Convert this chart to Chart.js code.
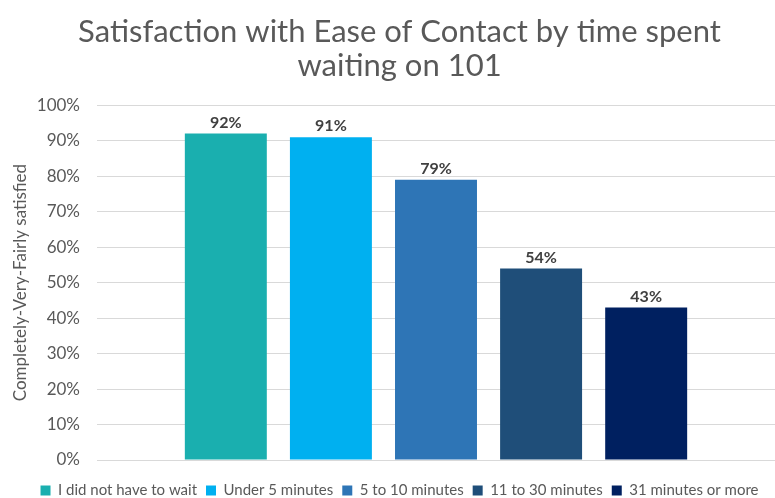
<!DOCTYPE html>
<html>
<head>
<meta charset="utf-8">
<script src="https://cdn.jsdelivr.net/npm/chart.js@4"></script>
<style>
  html, body { margin: 0; padding: 0; background: #fff; }
  #wrap { width: 775px; height: 498px; }
</style>
</head>
<body>
<div id="wrap"><canvas id="chart" width="775" height="498"></canvas></div>
<script>
// Dados
const titleLines = ['Satisfaction with Ease of Contact by time spent', 'waiting on 101'];
const yAxisTitle = 'Completely-Very-Fairly satisfied';
const waitGroups = ['I did not have to wait', 'Under 5 minutes', '5 to 10 minutes', '11 to 30 minutes', '31 minutes or more'];
const satisfiedPct = [92, 91, 79, 54, 43];
const barColors = ['#1AAFAF', '#00B0F0', '#2E75B6', '#1F4E79', '#002060'];

const FONT = 'Lato, "Open Sans", sans-serif';
const GREY = '#595959';

// Rótulos de valor acima das barras
const valueLabels = {
    id: 'valueLabels',
    afterDatasetsDraw(chart) {
        const ctx = chart.ctx;
        ctx.save();
        ctx.font = 'bold 16px ' + FONT;
        ctx.fillStyle = '#404040';
        ctx.textAlign = 'center';
        ctx.textBaseline = 'bottom';
        chart.data.datasets.forEach((ds, i) => {
            const bar = chart.getDatasetMeta(i).data[0];
            ctx.fillText(ds.data[0] + '%', bar.x, bar.y - 3);
        });
        ctx.restore();
    }
};

const datasets = waitGroups.map((name, i) => ({
    label: name,
    data: [satisfiedPct[i]],
    backgroundColor: barColors[i],
    borderWidth: 0,
    categoryPercentage: 0.775,
    barPercentage: 0.78
}));

new Chart(document.getElementById('chart').getContext('2d'), {
    type: 'bar',
    data: { labels: [''], datasets: datasets },
    options: {
        responsive: false,
        animation: false,
        layout: { padding: { left: 24, right: 0, top: 15, bottom: -10 } },
        plugins: {
            title: {
                display: true,
                text: titleLines,
                color: GREY,
                font: { family: FONT, size: 31, weight: 'normal', lineHeight: 1.1 },
                padding: { top: 0, bottom: 22 }
            },
            legend: {
                position: 'bottom',
                labels: {
                    color: GREY,
                    font: { family: FONT, size: 15 },
                    boxWidth: 10,
                    boxHeight: 10,
                    padding: 9
                }
            },
            tooltip: { enabled: false }
        },
        scales: {
            x: {
                ticks: { display: false },
                grid: { display: false },
                border: { display: false },
                afterFit(scale) { scale.height = 14; }
            },
            y: {
                min: 0,
                max: 100,
                ticks: {
                    stepSize: 10,
                    color: GREY,
                    font: { family: FONT, size: 17 },
                    padding: 17,
                    callback: v => v + '%'
                },
                grid: { color: '#D9D9D9', drawTicks: false },
                border: { display: false },
                title: {
                    display: true,
                    text: yAxisTitle,
                    color: GREY,
                    font: { family: FONT, size: 17 },
                    padding: { top: -14, bottom: 0 }
                },
                afterFit(scale) { scale.width = 73; }
            }
        }
    },
    plugins: [valueLabels]
});
</script>
</body>
</html>
